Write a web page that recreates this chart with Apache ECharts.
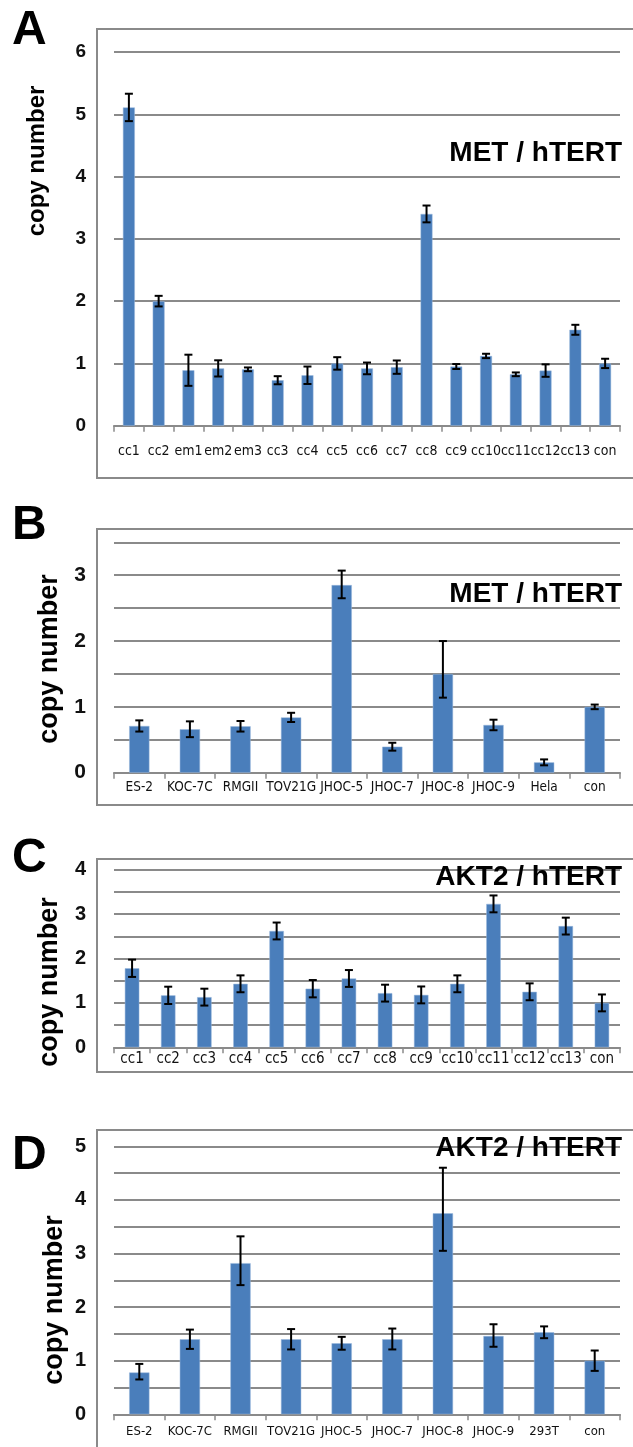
<!DOCTYPE html>
<html>
<head>
<meta charset="utf-8">
<script src="https://cdn.jsdelivr.net/npm/echarts@6/dist/echarts.min.js"></script>
<style>
  html, body { margin: 0; padding: 0; background: #fff; }
  #chart { width: 633px; height: 1447px; }
</style>
</head>
<body>
<div id="chart"></div>
<script>
// Panel A: MET / hTERT in clinical samples
const catsA = ['cc1', 'cc2', 'em1', 'em2', 'em3', 'cc3', 'cc4', 'cc5', 'cc6', 'cc7', 'cc8', 'cc9', 'cc10', 'cc11', 'cc12', 'cc13', 'con'];
const valsA = [5.11, 2.0, 0.89, 0.92, 0.905, 0.73, 0.81, 1.0, 0.92, 0.94, 3.40, 0.95, 1.12, 0.825, 0.885, 1.54, 1.0];
const errA = [0.22, 0.085, 0.25, 0.13, 0.03, 0.065, 0.14, 0.1, 0.094, 0.107, 0.135, 0.04, 0.035, 0.03, 0.1, 0.08, 0.075];

// Panel B: MET / hTERT in cell lines
const catsB = ['ES-2', 'KOC-7C', 'RMGII', 'TOV21G', 'JHOC-5', 'JHOC-7', 'JHOC-8', 'JHOC-9', 'Hela', 'con'];
const valsB = [0.71, 0.66, 0.705, 0.84, 2.85, 0.395, 1.50, 0.725, 0.157, 1.0];
const errUpB = [0.085, 0.12, 0.08, 0.07, 0.22, 0.06, 0.50, 0.08, 0.045, 0.035];
const errDownB = [0.085, 0.12, 0.08, 0.07, 0.20, 0.06, 0.36, 0.08, 0.045, 0.035];

// Panel C: AKT2 / hTERT in clinical samples
const catsC = ['cc1', 'cc2', 'cc3', 'cc4', 'cc5', 'cc6', 'cc7', 'cc8', 'cc9', 'cc10', 'cc11', 'cc12', 'cc13', 'con'];
const valsC = [1.78, 1.17, 1.13, 1.43, 2.62, 1.32, 1.55, 1.22, 1.18, 1.43, 3.23, 1.25, 2.73, 1.0];
const errC = [0.195, 0.195, 0.19, 0.19, 0.19, 0.195, 0.19, 0.19, 0.19, 0.19, 0.19, 0.19, 0.19, 0.19];

// Panel D: AKT2 / hTERT in cell lines
const catsD = ['ES-2', 'KOC-7C', 'RMGII', 'TOV21G', 'JHOC-5', 'JHOC-7', 'JHOC-8', 'JHOC-9', '293T', 'con'];
const valsD = [0.78, 1.40, 2.82, 1.40, 1.325, 1.40, 3.75, 1.46, 1.53, 1.0];
const errUpD = [0.16, 0.18, 0.50, 0.19, 0.12, 0.20, 0.85, 0.22, 0.11, 0.19];
const errDownD = [0.13, 0.18, 0.41, 0.19, 0.12, 0.19, 0.70, 0.20, 0.11, 0.19];

const BAR = '#4a7ebb';
const GRID = '#8a8a8a';
const NARROW = "'Liberation Sans Narrow', 'Arial Narrow', 'DejaVu Sans Condensed', 'Liberation Sans', sans-serif";
const BOLD = "'Liberation Sans', Arial, sans-serif";

// plot areas (gridline extents) and frames, in px
const panels = [
  { letter: 'A', title: 'MET / hTERT', cats: catsA, vals: valsA, up: errA, down: errA,
    top: 52, bottom: 425.7, max: 6, step: 1, frameTop: 29, frameBottom: 478,
    titleY: 153, nameX: 37, nameY: 161, nameSize: 24, letterY: 31, yFont: 19, xFont: 14, xMargin: 19 },
  { letter: 'B', title: 'MET / hTERT', cats: catsB, vals: valsB, up: errUpB, down: errDownB,
    top: 542.3, bottom: 772.7, max: 3.5, step: 0.5, frameTop: 529, frameBottom: 805,
    titleY: 594, nameX: 50, nameY: 659, nameSize: 27, letterY: 526, yFont: 21, xFont: 13.5, xMargin: 8 },
  { letter: 'C', title: 'AKT2 / hTERT', cats: catsC, vals: valsC, up: errC, down: errC,
    top: 869.7, bottom: 1047.3, max: 4, step: 0.5, frameTop: 859, frameBottom: 1072,
    titleY: 877, nameX: 50, nameY: 982, nameSize: 27, letterY: 859, yFont: 20, xFont: 15, xMargin: 4 },
  { letter: 'D', title: 'AKT2 / hTERT', cats: catsD, vals: valsD, up: errUpD, down: errDownD,
    top: 1146.3, bottom: 1414.3, max: 5, step: 0.5, frameTop: 1130, frameBottom: 1470,
    titleY: 1148, nameX: 55, nameY: 1300, nameSize: 27, letterY: 1156, yFont: 20, xFont: 13, xMargin: 11 }
];

const PLOT_LEFT = 114;
const PLOT_RIGHT = 620;
const H = 1447;

const grids = [], xAxes = [], yAxes = [], series = [], graphics = [];

panels.forEach((p, k) => {
  grids.push({ left: PLOT_LEFT, width: PLOT_RIGHT - PLOT_LEFT, top: p.top, height: p.bottom - p.top });

  xAxes.push({
    type: 'category', gridIndex: k, data: p.cats,
    axisLine: { lineStyle: { color: GRID, width: 2 } },
    axisTick: { show: true, length: 6, lineStyle: { color: GRID, width: 1.5 } },
    axisLabel: { color: '#111', fontFamily: NARROW, fontSize: p.xFont, margin: p.xMargin, interval: 0 },
    splitLine: { show: false }
  });

  yAxes.push({
    type: 'value', gridIndex: k, min: 0, max: p.max, interval: p.step,
    axisLine: { show: false }, axisTick: { show: false },
    axisLabel: {
      color: '#111', fontFamily: BOLD, fontWeight: 'bold', fontSize: p.yFont, margin: 28,
      formatter: v => (Number.isInteger(v) ? String(v) : '')
    },
    splitLine: { lineStyle: { color: GRID, width: 2 } }
  });

  series.push({
    type: 'bar', xAxisIndex: k, yAxisIndex: k, data: p.vals, barWidth: '40%',
    itemStyle: { color: BAR, borderColor: '#9ab8dc', borderWidth: 0.5 },
    animation: false, z: 2
  });

  series.push({
    type: 'custom', xAxisIndex: k, yAxisIndex: k, animation: false, z: 3,
    data: p.vals.map((v, i) => [i, v - p.down[i], v + p.up[i]]),
    encode: { x: 0, y: [1, 2] },
    renderItem: (params, api) => {
      const lo = api.coord([api.value(0), api.value(1)]);
      const hi = api.coord([api.value(0), api.value(2)]);
      const cap = 4;
      const st = { stroke: '#000', lineWidth: 2 };
      return {
        type: 'group',
        children: [
          { type: 'line', shape: { x1: hi[0], y1: hi[1], x2: lo[0], y2: lo[1] }, style: st },
          { type: 'line', shape: { x1: hi[0] - cap, y1: hi[1], x2: hi[0] + cap, y2: hi[1] }, style: st },
          { type: 'line', shape: { x1: lo[0] - cap, y1: lo[1], x2: lo[0] + cap, y2: lo[1] }, style: st }
        ]
      };
    }
  });

  // outer frame (right side runs off the page)
  graphics.push({
    type: 'rect', z: -1, silent: true,
    shape: { x: 97, y: p.frameTop, width: 600, height: Math.min(p.frameBottom, H + 20) - p.frameTop },
    style: { fill: 'none', stroke: GRID, lineWidth: 2 }
  });
  // panel letter
  graphics.push({
    type: 'text', x: 12, y: p.letterY, z: 10,
    style: { text: p.letter, font: 'bold 48px ' + BOLD, fill: '#000', textVerticalAlign: 'middle' }
  });
  // gene ratio title
  graphics.push({
    type: 'text', x: PLOT_RIGHT + 2, y: p.titleY, z: 10,
    style: { text: p.title, font: 'bold 28px ' + BOLD, fill: '#000', textAlign: 'right', textVerticalAlign: 'middle' }
  });
  // y axis name
  graphics.push({
    type: 'text', x: p.nameX, y: p.nameY, rotation: Math.PI / 2, z: 10,
    style: { text: 'copy number', font: 'bold ' + p.nameSize + 'px ' + BOLD, fill: '#000', textAlign: 'center', textVerticalAlign: 'middle' }
  });
});

const chart = echarts.init(document.getElementById('chart'), null, { renderer: 'canvas' });
chart.setOption({
  backgroundColor: '#fff',
  animation: false,
  grid: grids,
  xAxis: xAxes,
  yAxis: yAxes,
  series: series,
  graphic: graphics
});
</script>
</body>
</html>
